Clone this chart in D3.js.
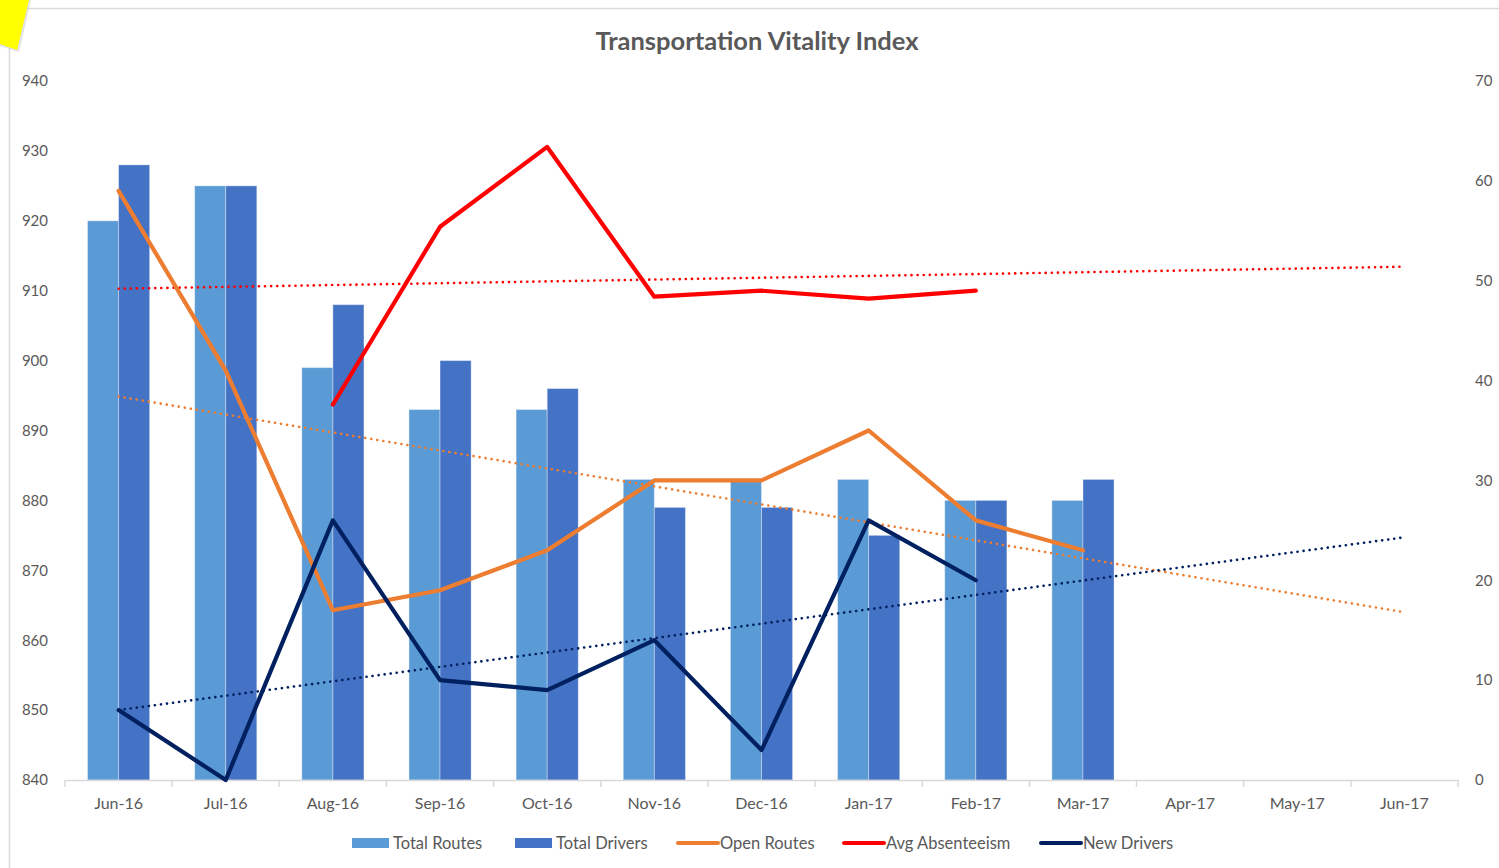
<!DOCTYPE html>
<html>
<head>
<meta charset="utf-8">
<script src="https://cdn.jsdelivr.net/npm/d3@7"></script>
<style>
  html, body { margin: 0; padding: 0; background: #fff; }
  svg { display: block; }
  text { font-family: Lato, "Open Sans", sans-serif; }
</style>
</head>
<body>
<svg id="chart" width="1499" height="868"></svg>
<script>
// ---- data ----
const categories = ["Jun-16","Jul-16","Aug-16","Sep-16","Oct-16","Nov-16","Dec-16","Jan-17","Feb-17","Mar-17","Apr-17","May-17","Jun-17"];
const totalRoutes  = [920, 925, 899, 893, 893, 883, 883, 883, 880, 880, null, null, null];
const totalDrivers = [928, 925, 908, 900, 896, 879, 879, 875, 880, 883, null, null, null];
const openRoutes   = [59, 41, 17, 19, 23, 30, 30, 35, 26, 23, null, null, null];
const avgAbsenteeism = [null, null, 37.6, 55.4, 63.4, 48.4, 49.0, 48.2, 49.0, null, null, null, null];
const newDrivers   = [7, 0, 26, 10, 9, 14, 3, 26, 20, null, null, null, null];
// linear trendlines: value at first and last category
const trendOpenRoutes = [38.4, 16.8];
const trendAbsenteeism = [49.2, 51.4];
const trendNewDrivers = [7.0, 24.3];
const leftTicks = [840, 850, 860, 870, 880, 890, 900, 910, 920, 930, 940];
const rightTicks = [0, 10, 20, 30, 40, 50, 60, 70];
const title = "Transportation Vitality Index";
const legendItems = [
  {name: "Total Routes", type: "bar", color: "#5B9BD5"},
  {name: "Total Drivers", type: "bar", color: "#4472C4"},
  {name: "Open Routes", type: "line", color: "#ED7D31"},
  {name: "Avg Absenteeism", type: "line", color: "#FF0000"},
  {name: "New Drivers", type: "line", color: "#002060"}
];

// ---- layout ----
const svg = d3.select("#chart");
const plot = {left: 65, right: 1458, top: 81, bottom: 780};
const labelColor = "#595959";

// chart frame & yellow note
svg.append("line").attr("x1", 9).attr("x2", 1499).attr("y1", 8.5).attr("y2", 8.5)
  .attr("stroke", "#d9d9d9").attr("stroke-width", 1.5);
svg.append("line").attr("x1", 9.5).attr("x2", 9.5).attr("y1", 8).attr("y2", 868)
  .attr("stroke", "#d9d9d9").attr("stroke-width", 1.5);
svg.append("polygon").attr("points", "0,0 31,0 19,52 0,46").attr("fill", "#c8c8c8").attr("opacity", 0.5);
svg.append("polygon").attr("points", "0,0 29,0 17,50 0,44").attr("fill", "#FFFF00");

const x = d3.scaleBand().domain(categories).range([plot.left, plot.right]).paddingInner(0).paddingOuter(0);
const bw = x.bandwidth();
const barW = bw * 0.29;
const yL = d3.scaleLinear().domain([840, 940]).range([plot.bottom, plot.top]);
const yR = d3.scaleLinear().domain([0, 70]).range([plot.bottom, plot.top]);
const cx = c => x(c) + bw / 2;

// title
svg.append("text").attr("x", 757).attr("y", 50).attr("text-anchor", "middle")
  .attr("font-size", 25.5).attr("font-weight", 700).attr("fill", labelColor).text(title);

// left axis labels
const axL = d3.axisLeft(yL).tickValues(leftTicks).tickSize(0).tickPadding(0);
const gL = svg.append("g").attr("transform", "translate(48,0)").call(axL);
gL.select(".domain").remove();
gL.selectAll("text").attr("font-size", 15).attr("fill", labelColor).attr("font-family", "Lato, sans-serif");

// right axis labels
const axR = d3.axisRight(yR).tickValues(rightTicks).tickSize(0).tickPadding(0);
const gR = svg.append("g").attr("transform", "translate(1475,0)").call(axR);
gR.select(".domain").remove();
gR.selectAll("text").attr("font-size", 15).attr("fill", labelColor).attr("font-family", "Lato, sans-serif");

// bars
const barData = [];
categories.forEach((c, i) => {
  if (totalRoutes[i] != null) barData.push({c, v: totalRoutes[i], off: -barW, color: "#5B9BD5"});
  if (totalDrivers[i] != null) barData.push({c, v: totalDrivers[i], off: 0, color: "#4472C4"});
});
svg.append("g").selectAll("rect").data(barData).join("rect")
  .attr("x", d => cx(d.c) + d.off)
  .attr("width", barW)
  .attr("y", d => yL(d.v))
  .attr("height", d => yL(840) - yL(d.v))
  .attr("fill", d => d.color)
  .attr("stroke", "#ffffff").attr("stroke-opacity", 0.35).attr("stroke-width", 1);

// x axis
const axX = d3.axisBottom(x).tickSize(0).tickPadding(18);
const gX = svg.append("g").attr("transform", `translate(0,${plot.bottom})`).call(axX);
gX.select(".domain").attr("stroke", "#d9d9d9").attr("stroke-width", 1.5);
gX.selectAll("text").attr("font-size", 16).attr("fill", labelColor).attr("font-family", "Lato, sans-serif");
const boundaries = categories.map(c => x(c)).concat([plot.right]);
svg.append("g").selectAll("line").data(boundaries).join("line")
  .attr("x1", d => d).attr("x2", d => d)
  .attr("y1", plot.bottom).attr("y2", plot.bottom + 7)
  .attr("stroke", "#d9d9d9").attr("stroke-width", 1.5);

// trendlines
const trends = [
  {v: trendOpenRoutes, color: "#ED7D31"},
  {v: trendAbsenteeism, color: "#FF0000"},
  {v: trendNewDrivers, color: "#002060"}
];
svg.append("g").selectAll("line").data(trends).join("line")
  .attr("x1", cx(categories[0])).attr("x2", cx(categories[categories.length - 1]))
  .attr("y1", d => yR(d.v[0])).attr("y2", d => yR(d.v[1]))
  .attr("stroke", d => d.color).attr("stroke-width", 2.6)
  .attr("stroke-dasharray", "0.1,6").attr("stroke-linecap", "round");

// lines
const lineGen = d3.line().defined(d => d.v != null).x(d => cx(d.c)).y(d => yR(d.v));
const series = [
  {vals: openRoutes, color: "#ED7D31"},
  {vals: avgAbsenteeism, color: "#FF0000"},
  {vals: newDrivers, color: "#002060"}
];
svg.append("g").selectAll("path").data(series).join("path")
  .attr("d", s => lineGen(categories.map((c, i) => ({c, v: s.vals[i]}))))
  .attr("fill", "none").attr("stroke", s => s.color).attr("stroke-width", 4.2)
  .attr("stroke-linejoin", "round").attr("stroke-linecap", "round");

// legend
const legendX = [352, 515, 678, 844, 1041];
const lg = svg.append("g");
legendItems.forEach((it, i) => {
  const g = lg.append("g").attr("transform", `translate(${legendX[i]},843)`);
  if (it.type === "bar") {
    g.append("rect").attr("x", 0).attr("y", -5).attr("width", 37).attr("height", 10).attr("fill", it.color);
  } else {
    g.append("line").attr("x1", 0).attr("x2", 40).attr("y1", 0).attr("y2", 0)
      .attr("stroke", it.color).attr("stroke-width", 4).attr("stroke-linecap", "round");
  }
  g.append("text").attr("x", it.type === "bar" ? 41 : 42).attr("y", 6)
    .attr("font-size", 16.5).attr("fill", labelColor).text(it.name);
});
</script>
</body>
</html>
